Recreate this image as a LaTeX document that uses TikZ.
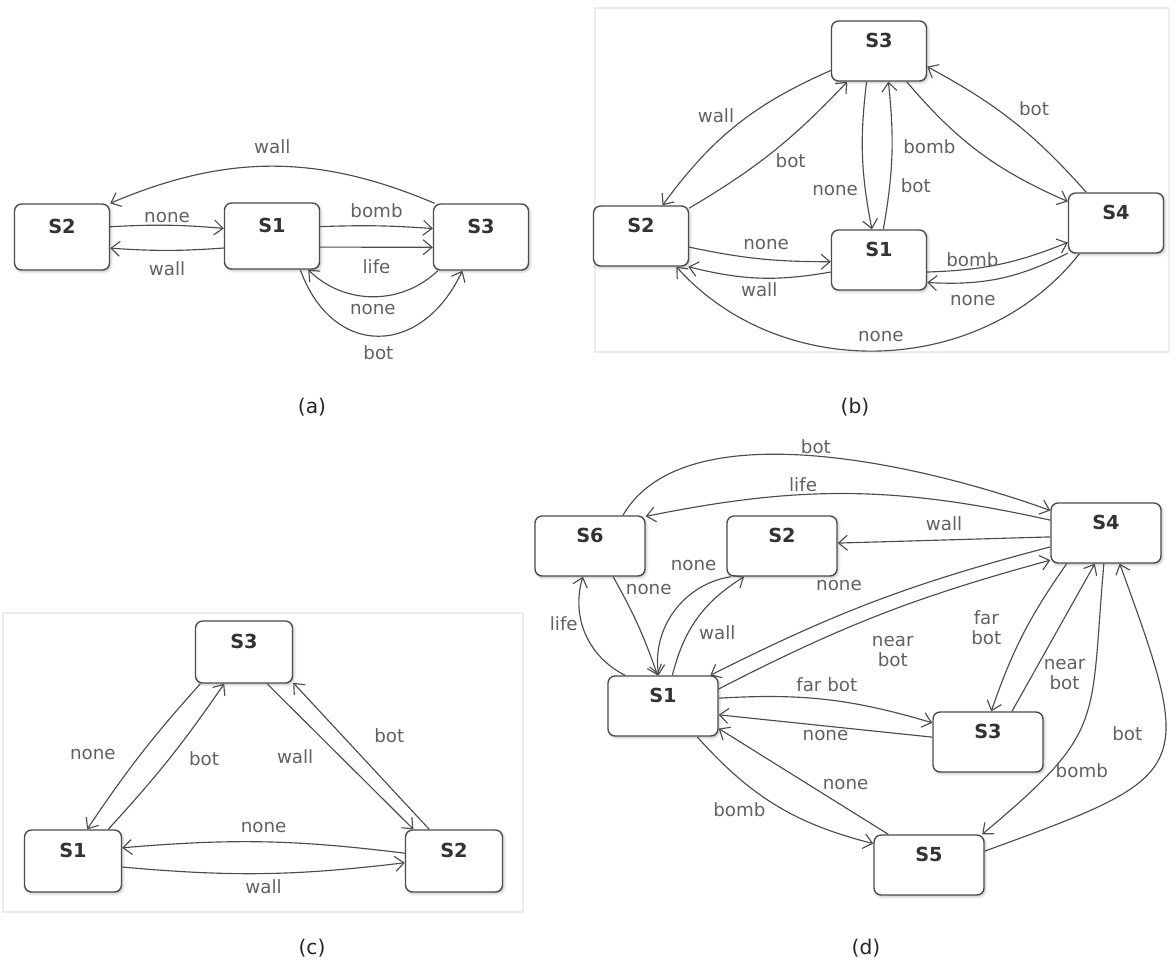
\documentclass[tikz,border=0pt]{standalone}
\usepackage{fontspec}
\setmainfont{DejaVu Sans}
\usetikzlibrary{arrows.meta, shadows.blur}

\begin{document}
\begin{tikzpicture}[x=0.02cm, y=-0.02cm,
    state/.style={draw=black!70, line width=0.8pt, rounded corners=4pt, fill=white,
      minimum width=1.9cm, minimum height=1.2cm, text height=0.3cm, text depth=0.43cm,
      inner sep=0pt, text=black!80, font=\bfseries\fontsize{11}{12}\selectfont,
      blur shadow={shadow xshift=0.8pt, shadow yshift=-1pt, shadow blur radius=1.5pt, shadow opacity=25}},
    edge/.style={draw=black!70, line width=0.65pt, -{Straight Barb[length=5pt,width=8.5pt]}},
    lbl/.style={text=black!62, inner sep=1pt, align=center, font=\fontsize{10.4}{11}\selectfont},
    subcap/.style={text=black!85, font=\fontsize{11.5}{13}\selectfont},
    panel/.style={draw=black!7, line width=1pt}]
  \useasboundingbox (0,0) rectangle (1176,968);

  % 背景框 (b) (c)
  \draw[panel] (595,8) rectangle (1169,352);
  \draw[panel] (3,613) rectangle (523,912);

  % (a)
  \node[state, minimum height=1.32cm] (a2) at (62,237) {S2};
  \node[state, minimum height=1.32cm] (a1) at (272,236) {S1};
  \node[state, minimum height=1.32cm] (a3) at (481,237) {S3};
  \draw[edge] (a2.12) to[bend left=4] node[lbl, above=0pt] {none} (a1.171);
  \draw[edge] (a1.194) to[bend left=4] node[lbl, below=5pt] {wall} (a2.347);
  \draw[edge] (a1.11) to[bend left=3] node[lbl, above=3pt] {bomb} (a3.170);
  \draw[edge] (a1.347) to node[lbl, below=6pt] {life} (a3.192);
  \draw[edge] (a3.144) to[bend right=23] node[lbl, above=6pt] {wall} (a2.35);
  \draw[edge] (a3.218) to[bend left=44] node[lbl, below=3pt] {none} (a1.317);
  \draw[edge] (a1.310) to[out=-70, in=-115, looseness=1.5] node[lbl, below=4pt] {bot} (a3.241);
  \node[subcap] (capa) at (312,407) {(a)};

  % (b)
  \node[state] (b3) at (879,51) {S3};
  \node[state] (b2) at (641,236) {S2};
  \node[state] (b1) at (879,260) {S1};
  \node[state] (b4) at (1116,223) {S4};
  \draw[edge] (b3.202) to[bend right=15] node[lbl, above left] {wall} (b2.55);
  \draw[edge] (b2.30) to[bend right=8] node[lbl, below right] {bot} (b3.224);
  \draw[edge] (b3.248) to[bend right=9] node[lbl, pos=.75, left=3pt] {none} (b1.103);
  \draw[edge] (b1.82) to[bend right=8] node[lbl, pos=.28, right=5pt] {bot} (b3.287);
  \draw[edge] (b3.312) to[bend right=13] node[lbl, pos=.45, left=8pt] {bomb} (b4.156);
  \draw[edge] (b4.134) to[bend right=10] node[lbl, above right=2pt] {bot} (b3.342);
  \draw[edge] (b2.347) to[bend right=6] node[lbl, pos=.55, above=4pt] {none} (b1.182);
  \draw[edge] (b1.194) to[bend left=12] node[lbl, below=1pt] {wall} (b2.327);
  \draw[edge] (b1.346) to[bend right=10] node[lbl, pos=.3, above] {bomb} (b4.202);
  \draw[edge] (b4.212) to[bend left=15] node[lbl, pos=.7, below=6pt] {none} (b1.335);
  \draw[edge] (b4.220) to[bend left=50] node[lbl, above=4pt] {none} (b2.319);
  \node[subcap] (capb) at (855,407) {(b)};

  % (c)
  \node[state, minimum width=1.94cm, minimum height=1.24cm] (c3) at (244,652) {S3};
  \node[state, minimum width=1.94cm, minimum height=1.24cm] (c1) at (73,861) {S1};
  \node[state, minimum width=1.94cm, minimum height=1.24cm] (c2) at (454,861) {S2};
  \draw[edge] (c3.216) to[bend right=4] node[lbl, left=13pt] {none} (c1.66);
  \draw[edge] (c1.42) to[bend right=4] node[lbl, right=10pt] {bot} (c3.238);
  \draw[edge] (c3.306) to node[lbl, left=14pt] {wall} (c2.142);
  \draw[edge] (c2.128) to node[lbl, pos=.64, right=17pt] {bot} (c3.328);
  \draw[edge] (c2.171) to[bend right=6] node[lbl, above=4pt] {none} (c1.15);
  \draw[edge] (c1.353) to[bend right=6] node[lbl, below=2pt] {wall} (c2.182);
  \node[subcap] (capc) at (312,948) {(c)};

  % (d)
  \node[state, minimum width=2.2cm] (d6) at (590,546) {S6};
  \node[state, minimum width=2.2cm] (d2) at (782,546) {S2};
  \node[state, minimum width=2.2cm] (d4) at (1106,533) {S4};
  \node[state, minimum width=2.2cm] (d1) at (663,706) {S1};
  \node[state, minimum width=2.2cm] (d3) at (988,742) {S3};
  \node[state, minimum width=2.2cm] (d5) at (929,865) {S5};
  \draw[edge] (d6.43) to[out=60, in=160, looseness=.75] node[lbl, above] {bot} (d4.158);
  \draw[edge] (d4.167) to[bend right=12] node[lbl, pos=.62, above] {life} (d6.28);
  \draw[edge] (d4.184) -- node[lbl, above=4pt] {wall} (d2.3);
  \draw[edge] (d4.194) to[bend right=6] node[lbl, pos=.62, above=13pt] {none} (d1.33);
  \draw[edge] (d1.17) to[bend left=6] node[lbl, pos=.54, below=14pt] {near\\bot} (d4.206);
  \draw[edge] (d4.218) to[bend right=8] node[lbl, pos=.45, left=13pt] {far\\bot} (d3.84);
  \draw[edge] (d3.52) -- node[lbl, pos=.25, right=5pt] {near\\bot} (d4.250);
  \draw[edge] (d4.266) to[out=-95, in=40, looseness=1.4] node[lbl, pos=.75, right=1pt] {bomb} (d5.30);
  \draw[edge] (d5.14) to[out=20, in=-70, looseness=1.8] node[lbl, pos=.6, left=12pt] {bot} (d4.294);
  \draw[edge] (d1.8) to[bend left=10] node[lbl, above=3pt] {far bot} (d3.161);
  \draw[edge] (d3.175) -- node[lbl, below=1pt] {none} (d1.351);
  \draw[edge] (d1.318) to[bend right=17] node[lbl, pos=.45, below left] {bomb} (d5.159);
  \draw[edge] (d5.143) -- node[lbl, pos=.4, above right] {none} (d1.338);
  \draw[edge] (d6.307) to[bend left=5] node[lbl, pos=.12, right=2pt] {none} (d1.100);
  \draw[edge] (d1.141) to[bend left=40] node[lbl, pos=.6, left=1pt] {life} (d6.257);
  \draw[edge] (d2.211) to[bend right=45] node[lbl, pos=.05, above left=3pt] {none} (d1.98);
  \draw[edge] (d1.73) to[bend left=22] node[lbl, pos=.35, right=5pt] {wall} (d2.219);
  \node[subcap] (capd) at (866,948) {(d)};
\end{tikzpicture}
\end{document}
